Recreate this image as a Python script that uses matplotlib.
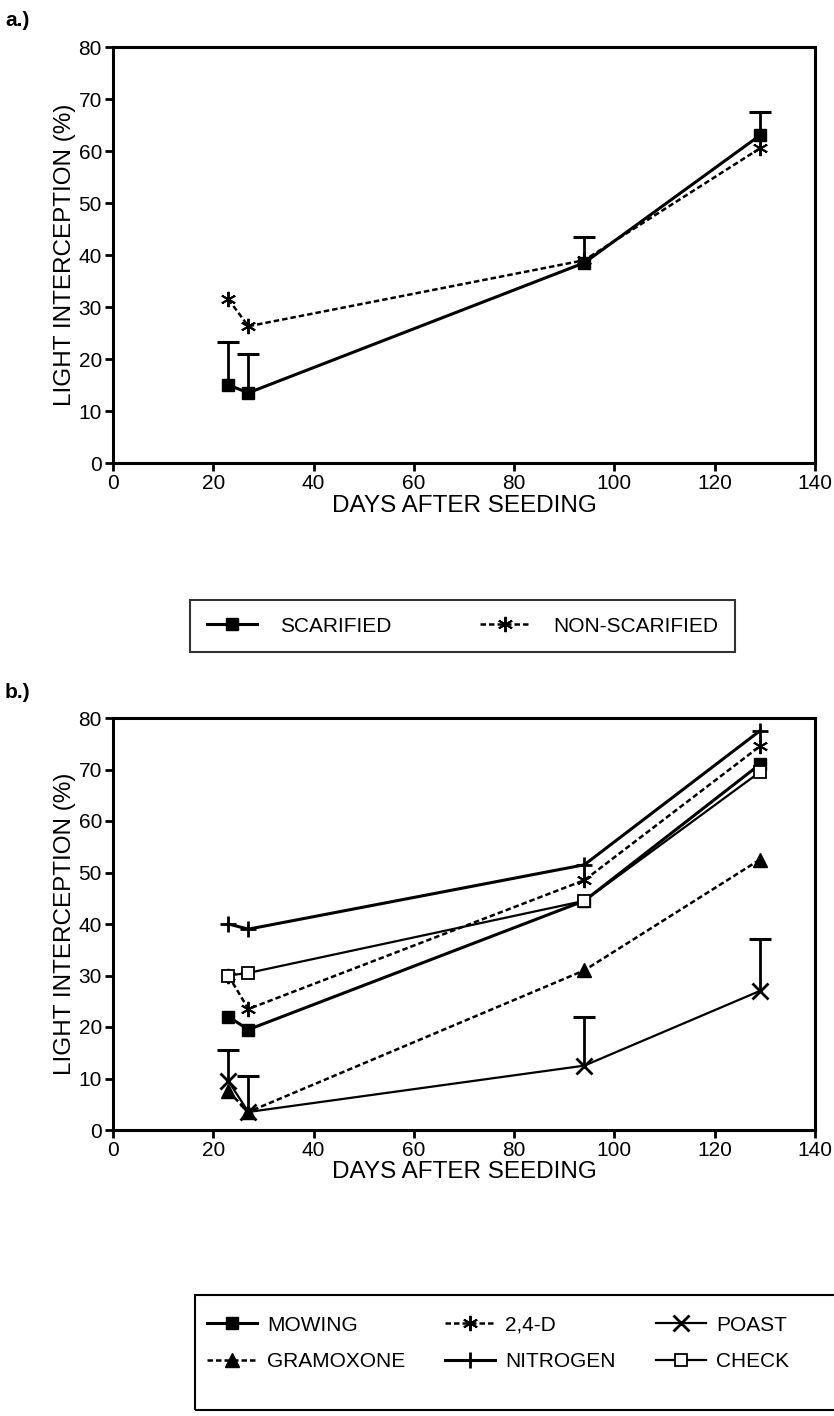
import matplotlib.pyplot as plt
from matplotlib.patches import Rectangle
import numpy as np

plt.rcParams['font.family'] = ['Liberation Sans', 'DejaVu Sans']

days = [23, 27, 94, 129]

# panel a
scarified = [15, 13.5, 38.5, 63]
scarified_err = [8.3, 7.5, 5, 4.5]
non_scarified = [31.5, 26.3, 39, 60.5]

# panel b
mowing = [22, 19.5, 44.5, 71]
two4d = [30, 23.5, 48.5, 74.5]
poast = [9.5, 3.5, 12.5, 27]
poast_err = [6, 7, 9.5, 10]
gramoxone = [7.5, 3.5, 31, 52.5]
nitrogen = [40, 39, 51.5, 77.5]
check = [30, 30.5, 44.5, 69.5]

x_ticks = [0, 20, 40, 60, 80, 100, 120, 140]
y_ticks = [0, 10, 20, 30, 40, 50, 60, 70, 80]

FS = 15
LFS = 17.5
dash = (0, (2.2, 1.2))


def style_axes(ax):
    ax.set_xlim(0, 140)
    ax.set_ylim(0, 80)
    ax.set_xticks(x_ticks)
    ax.set_yticks(y_ticks)
    ax.tick_params(direction='out', length=6, width=2, labelsize=FS, pad=2,
                   top=False, right=False)
    for s in ax.spines.values():
        s.set_linewidth(2.2)
    ax.set_xlabel('DAYS AFTER SEEDING', fontsize=LFS, labelpad=1)
    ax.set_ylabel('LIGHT INTERCEPTION (%)', fontsize=LFS, labelpad=2)


def upper_err(ax, y, err):
    _, caps, _ = ax.errorbar(days, y, yerr=[np.zeros(len(err)), err], fmt='none',
                             ecolor='black', elinewidth=2, capsize=8, capthick=2.2)
    caps[0].set_visible(False)


fig = plt.figure(figsize=(8.34, 14.16), dpi=100)

# ---- a.)
ax1 = fig.add_axes([113 / 834, 1 - 463 / 1416, 702 / 834, 416 / 1416])
upper_err(ax1, scarified, scarified_err)
ax1.plot(days, scarified, color='black', lw=2.2, marker='s', ms=9,
         label='SCARIFIED')
ax1.plot(days, non_scarified, color='black', lw=1.8, ls=dash, marker=(6, 2, 0),
         ms=11, mew=1.4, label='NON-SCARIFIED')
style_axes(ax1)
leg1 = ax1.legend(loc='upper left',
                  bbox_to_anchor=(190 / 834, 1 - 650 / 1416, 545 / 834, 50 / 1416),
                  bbox_transform=fig.transFigure, mode='expand', ncol=2,
                  fontsize=FS, frameon=True, fancybox=False, edgecolor='black',
                  handlelength=2.4, handletextpad=1.1, borderpad=0.8,
                  borderaxespad=0)
leg1.get_frame().set_linewidth(1.5)
fig.text(5 / 834, 1 - 26 / 1416, 'a.)', fontsize=FS, fontweight='bold')

# ---- b.)
ax2 = fig.add_axes([113 / 834, 1 - 1130 / 1416, 702 / 834, 412 / 1416])
upper_err(ax2, poast, poast_err)
h_mow, = ax2.plot(days, mowing, color='black', lw=2.2, marker='s', ms=9,
                  label='MOWING')
h_24d, = ax2.plot(days, two4d, color='black', lw=1.8, ls=dash, marker=(6, 2, 0),
                  ms=11, mew=1.4, label='2,4-D')
h_poa, = ax2.plot(days, poast, color='black', lw=1.6, marker='x', ms=11, mew=2,
                  label='POAST')
h_gra, = ax2.plot(days, gramoxone, color='black', lw=1.8, ls=dash, marker='^',
                  ms=10, label='GRAMOXONE')
h_nit, = ax2.plot(days, nitrogen, color='black', lw=2.2, marker='+', ms=11,
                  mew=2, label='NITROGEN')
h_chk, = ax2.plot(days, check, color='black', lw=1.6, marker='s', ms=9,
                  mfc='white', mew=1.3, label='CHECK')
style_axes(ax2)
ax2.legend(handles=[h_mow, h_gra, h_24d, h_nit, h_poa, h_chk],
           loc='upper left', bbox_to_anchor=(188 / 834, 1 - 1297 / 1416),
           bbox_transform=fig.transFigure, ncol=3, fontsize=FS, frameon=False,
           handlelength=2.4, handletextpad=0.5, borderpad=0.9,
           labelspacing=0.85, columnspacing=1.9, borderaxespad=0)
# legend box runs off the right edge of the page
fig.patches.append(Rectangle((195 / 834, 1 - 1410 / 1416), 660 / 834, 115 / 1416,
                             transform=fig.transFigure, fill=False,
                             edgecolor='black', lw=1.5))
fig.text(5 / 834, 1 - 698 / 1416, 'b.)', fontsize=FS, fontweight='bold')

fig.savefig('out.png', dpi=100, facecolor='white')
